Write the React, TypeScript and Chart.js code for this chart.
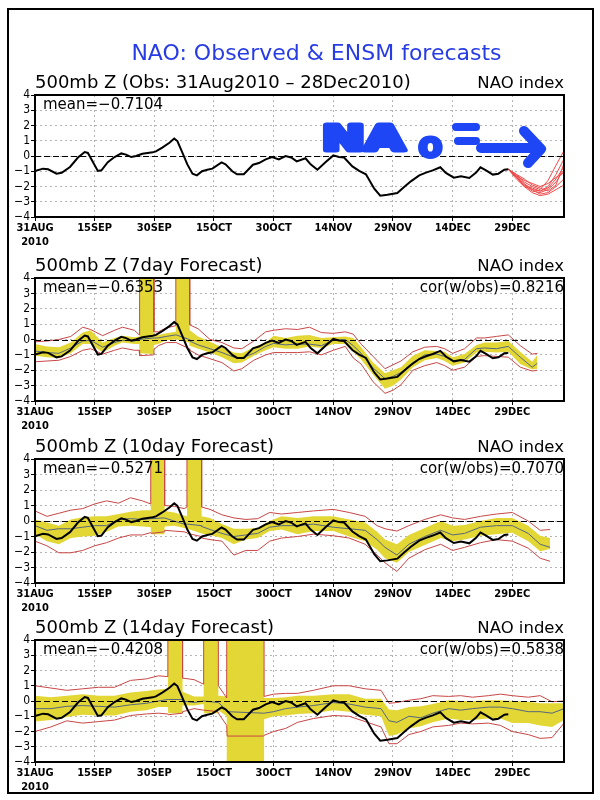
import React, { useEffect, useRef } from 'react';
import { Chart, registerables } from 'chart.js';
Chart.register(...registerables);

const FONT = '"DejaVu Sans", sans-serif';
const COND = '"DejaVu Sans Condensed", "DejaVu Sans", sans-serif';
Chart.defaults.font.family = FONT;

// ---------- axis ----------
const tickDays = [0, 15, 30, 45, 60, 75, 90, 105, 120];
const tickLabels: (string | string[])[] = [['31AUG', '2010'], '15SEP', '30SEP', '15OCT', '30OCT', '14NOV', '29NOV', '14DEC', '29DEC'];
const yTicks = [-4, -3, -2, -1, 0, 1, 2, 3, 4];

// ---------- observed NAO (days since 31Aug2010) ----------
const obsDays = [0, 2, 3.3, 5.4, 6.7, 8.8, 10.8, 12.5, 13.3, 15.8, 16.7, 18.3, 20, 21.7, 22.9, 24.2, 25.4, 27, 29.6, 30.4, 32, 33.8, 35, 35.8, 37, 38.3, 39.6, 40.7, 42, 43.3, 44.6, 46.9, 47.9, 49.6, 50.8, 52.5, 54.8, 56.3, 58, 59.6, 61.3, 63, 64.4, 65.8, 68, 69.3, 71, 73.1, 75, 76.4, 77.7, 79.8, 81.5, 83.2, 85.3, 86.8, 88.6, 91.1, 92.8, 94.5, 96.6, 98.3, 100, 101.9, 103.3, 105.3, 107.1, 109.2, 110.9, 112, 113.4, 115.1, 116.5, 118, 119];
const obsValues = [-0.98, -0.83, -0.87, -1.16, -1.1, -0.72, -0.1, 0.26, 0.2, -0.98, -0.94, -0.4, -0.07, 0.17, 0.09, -0.07, 0, 0.15, 0.24, 0.3, 0.55, 0.87, 1.14, 0.98, 0.26, -0.55, -1.16, -1.27, -1.0, -0.9, -0.83, -0.42, -0.55, -1.0, -1.2, -1.2, -0.57, -0.46, -0.22, -0.07, -0.22, 0, -0.1, -0.35, -0.15, -0.55, -0.9, -0.39, 0.04, -0.07, -0.1, -0.68, -0.98, -1.2, -2.14, -2.6, -2.54, -2.43, -2.03, -1.66, -1.27, -1.09, -0.94, -0.74, -1.11, -1.42, -1.33, -1.44, -1.09, -0.74, -0.94, -1.22, -1.16, -0.9, -0.87];

// ---------- ENSM members after 28Dec (panel 1) ----------
const memberDays = [119, 121, 123, 125, 127, 129, 131, 133];
const ensMembers = [
  [-0.87, -1.2, -1.7, -2.0, -2.2, -1.6, -0.6, 0.35],
  [-0.87, -1.3, -1.9, -2.1, -2.3, -2.0, -1.2, -0.2],
  [-0.87, -1.4, -1.9, -2.3, -2.4, -2.2, -1.7, -0.9],
  [-0.87, -1.3, -1.6, -1.8, -2.0, -1.8, -1.4, -1.1],
  [-0.87, -1.4, -2.0, -2.2, -2.5, -2.4, -2.0, -1.5],
  [-0.87, -1.2, -1.5, -1.9, -2.1, -2.3, -1.9, -0.5],
  [-0.87, -1.3, -1.8, -2.2, -2.3, -2.1, -1.5, -0.7],
  [-0.87, -1.5, -2.0, -2.4, -2.6, -2.5, -2.2, -1.9],
];

// ---------- 7 day forecast ----------
const f7Days = [0, 3, 6, 9, 12, 14, 17, 20, 22, 25, 26.2, 26.3, 29.8, 29.9, 31, 33, 35.4, 35.5, 38.8, 38.9, 41, 44, 47, 50, 52, 55, 58, 60, 63, 66, 69, 72, 75, 78, 80, 82, 85, 88, 90, 92, 95, 98, 101, 103, 105, 108, 111, 113, 116, 119, 122, 125, 126.3];
const f7Mean = [-0.75, -0.85, -0.9, -0.55, -0.1, -0.05, -0.5, -0.2, -0.05, -0.1, 0.0, 0.0, 0.1, 0.1, 0.1, 0.2, 0.3, 0.3, 0.0, -0.1, -0.35, -0.6, -0.85, -1.15, -1.2, -0.9, -0.45, -0.25, -0.35, -0.3, -0.3, -0.4, -0.05, 0.0, -0.4, -0.9, -1.85, -2.55, -2.4, -2.15, -1.5, -1.0, -0.95, -1.1, -1.4, -1.3, -0.6, -0.55, -0.6, -0.45, -1.15, -1.8, -1.55];
const f7BandLo = [-1.05, -1.15, -1.2, -0.9, -0.3, -0.3, -0.85, -0.4, -0.2, -0.3, -0.3, -0.9, -0.95, -0.35, -0.3, -0.05, 0.0, 0.0, -0.2, -0.4, -0.6, -0.85, -1.15, -1.55, -1.5, -1.05, -0.7, -0.5, -0.6, -0.6, -0.45, -0.55, -0.3, -0.3, -0.8, -1.3, -2.3, -3.2, -3.0, -2.6, -1.8, -1.35, -1.2, -1.4, -1.7, -1.5, -0.85, -0.8, -0.85, -0.8, -1.6, -1.95, -1.9];
const f7BandHi = [-0.3, -0.45, -0.5, -0.2, 0.45, 0.6, -0.2, 0.1, 0.25, 0.15, 0.2, 50, 50, 0.35, 0.3, 0.4, 0.5, 50, 50, 0.6, 0.2, -0.15, -0.5, -0.85, -0.9, -0.5, -0.2, 0.25, 0.1, 0.25, 0.3, 0.1, 0.15, 0.2, 0.1, -0.5, -1.5, -2.2, -2.0, -1.8, -1.05, -0.7, -0.75, -0.8, -1.15, -0.95, -0.35, -0.2, -0.2, -0.1, -0.8, -1.45, -1.0];
const f7Min = [-1.45, -1.4, -1.35, -1.1, -0.7, -0.6, -0.95, -0.7, -0.55, -0.7, -0.7, -1.05, -1.0, -0.65, -0.4, -0.2, -0.2, -0.2, -0.6, -0.7, -1.0, -1.25, -1.5, -2.05, -1.9, -1.35, -1.0, -0.85, -0.85, -0.85, -0.8, -1.0, -0.7, -0.45, -1.2, -1.6, -2.75, -3.5, -3.3, -2.95, -2.0, -1.7, -1.5, -1.7, -2.0, -1.8, -1.1, -1.05, -1.1, -1.15, -1.8, -2.05, -2.0];
const f7Max = [-0.15, -0.1, 0.0, 0.2, 0.8, 0.65, 0.25, 0.6, 0.8, 0.6, 0.3, 50, 50, 0.5, 0.5, 0.75, 0.9, 50, 50, 0.95, 0.7, 0.0, -0.2, -0.55, -0.6, -0.1, 0.5, 0.6, 0.7, 0.65, 0.8, 0.45, 0.4, 0.5, 0.35, -0.3, -1.1, -1.9, -1.65, -1.4, -0.8, -0.5, -0.45, -0.6, -0.9, -0.6, 0.1, 0.1, 0.2, 0.3, -0.4, -0.95, -0.9];

// ---------- 10 day forecast ----------
const f10Days = [0, 3, 6, 9, 12, 15, 18, 21, 24, 27, 29.1, 29.2, 32.5, 32.6, 35, 37.5, 38.2, 38.3, 41.8, 41.9, 44, 47, 50, 53, 56, 59, 62, 66, 70, 75, 79, 83, 86, 88, 91, 94, 98, 102, 105, 108, 112, 116, 120, 124, 127, 129.5];
const f10Mean = [-0.3, -0.6, -0.5, -0.5, -0.4, -0.3, -0.3, 0.1, 0.15, 0.1, 0.15, 0.15, 0.2, 0.2, 0.0, -0.2, -0.2, -0.2, -0.3, -0.35, -0.55, -0.8, -1.0, -0.9, -0.8, -0.4, -0.3, -0.3, -0.2, -0.4, -0.5, -0.6, -1.2, -1.7, -2.2, -1.5, -1.0, -0.6, -0.9, -0.8, -0.4, -0.3, -0.3, -0.8, -1.5, -1.7];
const f10BandLo = [-0.85, -1.3, -1.5, -1.1, -1.0, -0.95, -0.7, -0.35, -0.3, -0.35, -0.4, -0.85, -0.85, -0.35, -0.3, -0.45, -0.5, -0.5, -0.8, -0.8, -0.9, -1.1, -1.5, -1.2, -1.1, -0.65, -0.55, -0.85, -0.65, -0.65, -1.0, -1.3, -1.85, -2.4, -2.7, -2.0, -1.55, -1.1, -1.3, -1.2, -0.95, -0.85, -0.75, -1.3, -1.95, -1.8];
const f10BandHi = [0.1, -0.1, -0.3, 0.1, 0.25, 0.3, 0.3, 0.45, 0.6, 0.7, 0.7, 50, 50, 0.65, 0.55, 0.35, 0.3, 50, 50, 0.3, 0.2, -0.2, -0.5, -0.5, -0.45, 0.0, 0.3, 0.2, 0.3, 0.3, 0.1, -0.1, -0.7, -1.2, -1.5, -0.9, -0.45, 0.0, -0.3, -0.25, 0.0, 0.2, 0.2, -0.3, -0.95, -1.1];
const f10Min = [-1.3, -1.6, -2.05, -2.05, -1.9, -1.6, -1.4, -1.1, -0.9, -0.9, -0.75, -0.8, -0.7, -0.6, -0.65, -0.7, -0.75, -0.8, -1.0, -1.1, -1.2, -1.3, -2.2, -1.9, -1.9, -1.3, -1.1, -1.0, -0.85, -0.95, -1.1, -1.5, -2.2, -2.7, -3.25, -2.4, -1.85, -1.5, -1.9, -1.7, -1.4, -1.2, -1.3, -1.75, -2.4, -2.6];
const f10Max = [0.65, 0.3, 0.5, 0.7, 0.8, 1.1, 1.3, 1.15, 1.5, 1.3, 1.1, 50, 50, 1.0, 0.95, 0.8, 0.9, 50, 50, 0.9, 0.75, 0.4, 0.2, 0.1, 0.15, 0.55, 0.45, 0.55, 0.65, 0.75, 0.55, 0.3, -0.3, -0.5, -0.65, -0.3, 0.1, 0.4, 0.2, 0.1, 0.3, 0.45, 0.55, 0.0, -0.6, -0.55];

// ---------- 14 day forecast ----------
const f14Days = [0, 4, 8, 12, 16, 20, 24, 28, 31, 33.4, 33.5, 37, 37.1, 40, 42.4, 42.5, 46, 46.1, 48.2, 48.3, 57.5, 57.6, 60, 63, 66, 70, 75, 79, 83, 87, 89, 91, 94, 97, 100, 104, 107, 110, 114, 117, 120, 124, 127, 130, 133];
const f14Mean = [-0.5, -0.5, -0.35, -0.3, -0.35, -0.4, -0.25, -0.15, 0.0, 0.1, 0.1, 0.1, 0.0, -0.1, 0.0, 0.0, -0.1, -0.1, -0.6, -0.7, -0.8, -0.8, -0.7, -0.5, -0.4, -0.3, -0.1, -0.2, -0.4, -0.5, -1.3, -1.4, -1.0, -1.1, -0.8, -0.5, -0.6, -0.5, -0.4, -0.4, -0.5, -0.7, -0.7, -0.8, -0.5];
const f14BandLo = [-1.35, -1.25, -1.05, -0.9, -0.95, -0.95, -0.7, -0.6, -0.4, -0.4, -0.8, -0.8, -0.3, -0.3, -0.2, -0.8, -0.8, -0.6, -1.0, -50, -50, -1.2, -1.0, -0.95, -0.85, -0.8, -0.6, -0.7, -0.9, -1.0, -2.3, -2.2, -1.8, -1.65, -1.4, -1.15, -1.25, -1.25, -1.15, -1.15, -1.45, -1.45, -1.6, -1.7, -1.25];
const f14BandHi = [0.35, 0.25, 0.35, 0.45, 0.35, 0.35, 0.55, 0.65, 0.75, 0.8, 50, 50, 0.6, 0.3, 0.3, 50, 50, 0.35, 0.3, 50, 50, 0.2, 0.2, 0.25, 0.35, 0.35, 0.45, 0.45, 0.15, 0.15, -0.55, -0.6, -0.4, -0.35, -0.2, 0.05, 0.0, 0.0, 0.05, 0.05, 0.0, -0.05, -0.15, -0.15, -0.15];
const f14Min = [-2.0, -1.7, -1.3, -1.45, -1.35, -1.25, -0.95, -0.85, -0.8, -0.85, -0.9, -0.8, -0.7, -0.5, -0.6, -0.6, -0.7, -0.8, -1.6, -2.3, -2.3, -2.25, -2.0, -1.8, -1.4, -1.15, -0.95, -1.0, -1.35, -1.7, -2.8, -2.8, -2.2, -2.0, -1.7, -1.6, -1.45, -1.5, -1.45, -1.6, -2.0, -2.2, -2.45, -2.4, -1.45];
const f14Max = [1.0, 0.85, 0.7, 0.8, 0.9, 0.9, 1.35, 1.45, 1.65, 1.6, 50, 50, 1.5, 1.4, 1.1, 50, 50, 1.0, 0.2, 50, 50, 0.3, 0.45, 0.5, 0.5, 0.7, 1.0, 1.0, 0.8, 0.7, -0.15, -0.1, 0.05, 0.15, 0.35, 0.3, 0.35, 0.25, 0.35, 0.45, 0.35, 0.25, 0.35, -0.05, 0.0];

// ---------- panel texts ----------
const panelTitles = ['500mb Z (Obs: 31Aug2010 \u2013 28Dec2010)', '500mb Z (7day Forecast)', '500mb Z (10day Forecast)', '500mb Z (14day Forecast)'];
const panelMeans = ['mean=\u22120.7104', 'mean=\u22120.6353', 'mean=\u22120.5271', 'mean=\u22120.4208'];
const panelCors = ['', 'cor(w/obs)=0.8216', 'cor(w/obs)=0.7070', 'cor(w/obs)=0.5838'];

const YELLOW = '#e3d736';
const RED = '#c84646';
const MEANC = '#56667f';

const pts = (d: number[], v: number[]) => d.map((x, i) => ({ x, y: v[i] }));

const plotBoxes = [
  { top: 95, bottom: 217 },
  { top: 278, bottom: 401 },
  { top: 459, bottom: 583 },
  { top: 640, bottom: 762 },
];

function forecastSets(days: number[], mean: number[], lo: number[], hi: number[], mn: number[], mx: number[]) {
  return [
    { data: pts(obsDays, obsValues), borderColor: '#000', borderWidth: 2 },
    { data: pts(days, mean), borderColor: MEANC, borderWidth: 1 },
    { data: pts(days, mx), borderColor: RED, borderWidth: 1 },
    { data: pts(days, mn), borderColor: RED, borderWidth: 1 },
    { data: pts(days, hi), borderColor: 'rgba(0,0,0,0)', borderWidth: 0, backgroundColor: YELLOW, fill: '+1' },
    { data: pts(days, lo), borderColor: 'rgba(0,0,0,0)', borderWidth: 0, fill: false },
  ];
}

function obsSets() {
  return [
    { data: pts(obsDays, obsValues), borderColor: '#000', borderWidth: 2 },
    ...ensMembers.map((m) => ({ data: pts(memberDays, m), borderColor: '#f04a4a', borderWidth: 1 })),
  ];
}

function makeDecor(i: number) {
  return {
    id: 'decor' + i,
    afterDatasetsDraw(chart: any) {
      const { ctx, chartArea: a, scales } = chart;
      const y0 = Math.round(scales.y.getPixelForValue(0)) + 0.5;
      ctx.save();
      ctx.strokeStyle = '#000';
      ctx.lineWidth = 1;
      ctx.setLineDash([6, 3]);
      ctx.beginPath();
      ctx.moveTo(a.left, y0);
      ctx.lineTo(a.right, y0);
      ctx.stroke();
      ctx.setLineDash([]);
      ctx.lineWidth = 2;
      ctx.strokeRect(a.left, a.top, a.right - a.left, a.bottom - a.top);
      ctx.fillStyle = '#000';
      ctx.textBaseline = 'alphabetic';
      ctx.font = `18px ${FONT}`;
      ctx.textAlign = 'left';
      ctx.fillText(panelTitles[i], a.left, a.top - 7);
      ctx.font = `16.5px ${FONT}`;
      ctx.textAlign = 'right';
      ctx.fillText('NAO index', a.right, a.top - 7);
      ctx.font = `15px ${FONT}`;
      ctx.textAlign = 'left';
      ctx.fillText(panelMeans[i], a.left + 8, a.top + 14);
      if (panelCors[i]) {
        ctx.textAlign = 'right';
        ctx.fillText(panelCors[i], a.right, a.top + 14);
      }
      if (i === 0) {
        ctx.fillStyle = '#283ce6';
        ctx.font = `22px ${FONT}`;
        ctx.textAlign = 'center';
        ctx.fillText('NAO: Observed & ENSM forecasts', 316.5, 60);
        // hand-drawn annotation
        const blue = '#1e46f5';
        ctx.fillStyle = blue;
        ctx.strokeStyle = blue;
        ctx.lineJoin = 'round';
        ctx.lineCap = 'round';
        ctx.textAlign = 'left';
        ctx.save();
        ctx.translate(322, 150);
        ctx.scale(1.5, 1);
        ctx.lineWidth = 5;
        ctx.font = `bold 34px ${FONT}`;
        ctx.fillText('NA', 0, 0);
        ctx.strokeText('NA', 0, 0);
        ctx.restore();
        ctx.lineWidth = 3;
        ctx.font = `bold 36px ${FONT}`;
        ctx.fillText('o', 418, 157);
        ctx.strokeText('o', 418, 157);
        ctx.lineWidth = 8;
        ctx.beginPath();
        ctx.moveTo(456, 127);
        ctx.lineTo(476, 127);
        ctx.moveTo(458, 141);
        ctx.lineTo(476, 141);
        ctx.stroke();
        ctx.lineWidth = 10;
        ctx.beginPath();
        ctx.moveTo(481, 148);
        ctx.lineTo(538, 148);
        ctx.moveTo(524, 131);
        ctx.lineTo(541, 149);
        ctx.lineTo(528, 163);
        ctx.stroke();
      }
      ctx.restore();
    },
  };
}

function PanelChart({ index }: { index: number }) {
  const ref = useRef<HTMLCanvasElement | null>(null);
  useEffect(() => {
    if (!ref.current) return;
    const box = plotBoxes[index];
    const datasets =
      index === 0
        ? obsSets()
        : index === 1
        ? forecastSets(f7Days, f7Mean, f7BandLo, f7BandHi, f7Min, f7Max)
        : index === 2
        ? forecastSets(f10Days, f10Mean, f10BandLo, f10BandHi, f10Min, f10Max)
        : forecastSets(f14Days, f14Mean, f14BandLo, f14BandHi, f14Min, f14Max);
    const chart = new Chart(ref.current, {
      type: 'line',
      data: { datasets: datasets as any },
      options: {
        animation: false,
        responsive: false,
        devicePixelRatio: 1,
        layout: { padding: { left: 0, right: 36, top: box.top, bottom: 800 - box.bottom - 30 } },
        plugins: { legend: { display: false }, tooltip: { enabled: false }, title: { display: false } },
        elements: { point: { radius: 0 }, line: { tension: 0 } },
        scales: {
          x: {
            type: 'linear',
            min: 0,
            max: 133,
            afterBuildTicks: (s: any) => {
              s.ticks = tickDays.map((v) => ({ value: v }));
            },
            afterFit: (s: any) => {
              s.height = 30;
            },
            ticks: {
              autoSkip: false,
              maxRotation: 0,
              minRotation: 0,
              padding: 1,
              color: '#000',
              font: { family: COND, size: 11, weight: 'bold' },
              callback: (v: any) => {
                const k = tickDays.indexOf(Number(v));
                return k >= 0 ? tickLabels[k] : '';
              },
            },
            grid: { color: '#b4b4b4', lineWidth: 1, drawTicks: true, tickLength: 4, tickColor: '#000' },
            border: { display: false, dash: [2, 3] },
          },
          y: {
            min: -4,
            max: 4,
            afterBuildTicks: (s: any) => {
              s.ticks = yTicks.map((v) => ({ value: v }));
            },
            afterFit: (s: any) => {
              s.width = 35;
            },
            ticks: {
              autoSkip: false,
              padding: 1,
              color: '#000',
              font: { family: COND, size: 12 },
              callback: (v: any) => String(v).replace('-', '\u2212'),
            },
            grid: { color: '#b4b4b4', lineWidth: 1, drawTicks: true, tickLength: 4, tickColor: '#000' },
            border: { display: false, dash: [2, 3] },
          },
        },
      } as any,
      plugins: [makeDecor(index)],
    });
    return () => chart.destroy();
  }, [index]);
  return (
    <canvas
      ref={ref}
      width={600}
      height={800}
      style={{ position: 'absolute', left: 0, top: 0, width: 600, height: 800 }}
    />
  );
}

export default function App() {
  return (
    <div style={{ position: 'absolute', left: 0, top: 0, width: 600, height: 800, background: '#fff', overflow: 'hidden' }}>
      <div
        style={{
          position: 'absolute',
          left: 7,
          top: 8,
          width: 587,
          height: 786,
          border: '2px solid #000',
          boxSizing: 'border-box',
        }}
      />
      {[0, 1, 2, 3].map((i) => (
        <PanelChart key={i} index={i} />
      ))}
    </div>
  );
}
